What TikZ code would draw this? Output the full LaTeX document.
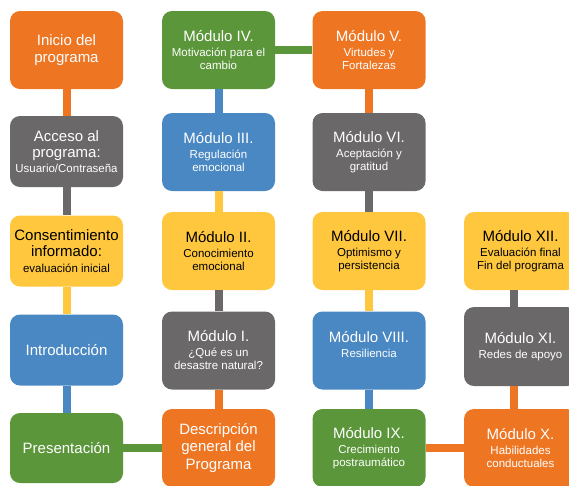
\documentclass[tikz,border=0pt]{standalone}
\usepackage{fontspec}
\setmainfont{Liberation Sans}
\definecolor{cor}{HTML}{EE7623}
\definecolor{cgr}{HTML}{6A6869}
\definecolor{cye}{HTML}{FEC73E}
\definecolor{cbl}{HTML}{4A88C3}
\definecolor{cgn}{HTML}{5B963A}
\newcommand\TT[1]{{\fontsize{15}{17}\selectfont #1}}
\tikzset{
  box/.style={rounded corners=10pt, minimum width=113pt, minimum height=78pt,
    align=center, inner sep=0pt, text=white, font=\fontsize{11.5}{13}\selectfont},
  bigbox/.style={box, font=\fontsize{15}{17.5}\selectfont},
  short/.style={minimum height=71pt},
  bor/.style={fill=cor}, bgr/.style={fill=cgr}, bye/.style={fill=cye, text=black},
  bbl/.style={fill=cbl}, bgn/.style={fill=cgn},
  conn/.style={line width=8pt},
}
\begin{document}
\begin{tikzpicture}[x=1pt,y=-1pt]
\useasboundingbox (0,0) rectangle (569,485);
% column 1
\node[bigbox,bor] (c1a) at (66.5,50) {Inicio del\\programa};
\node[box,bgr,short] (c1b) at (66.5,151.5) {\TT{Acceso al}\\[3.5pt]\TT{programa:}\\[2pt]Usuario/Contraseña};
\node[box,bye,short] (c1c) at (66.5,251) {\TT{Consentimiento}\\[3.5pt]\TT{informado:}\\[2.5pt]evaluación inicial};
\node[bigbox,bbl,short] (c1d) at (66.5,350) {Introducción};
\node[bigbox,bgn,minimum height=70pt] (c1e) at (66.5,448) {Presentación};
% column 2
\node[bigbox,bor] (c2e) at (218.5,448) {Descripción\\general del\\Programa};
\node[box,bgr] (c2d) at (218.5,350.5) {\TT{Módulo I.}\\[2pt]¿Qué es un\\desastre natural?};
\node[box,bye] (c2c) at (218.5,251) {\TT{Módulo II.}\\[2pt]Conocimiento\\emocional};
\node[box,bbl] (c2b) at (218.5,152) {\TT{Módulo III.}\\[2pt]Regulación\\emocional};
\node[box,bgn] (c2a) at (218.5,50) {\TT{Módulo IV.}\\[2pt]Motivación para el\\cambio};
% column 3
\node[box,bor] (c3a) at (369,50) {\TT{Módulo V.}\\[2pt]Virtudes y\\Fortalezas};
\node[box,bgr] (c3b) at (369,152) {\TT{Módulo VI.}\\[2pt]Aceptación y\\gratitud};
\node[box,bye] (c3c) at (369,251) {\TT{Módulo VII.}\\[2pt]Optimismo y\\persistencia};
\node[box,bbl] (c3d) at (369,350.5) {\TT{Módulo VIII.}\\[2pt]Resiliencia\\\mbox{}};
\node[box,bgn] (c3e) at (369,448) {\TT{Módulo IX.}\\[2pt]Crecimiento\\postraumático};
% column 4
\node[box,bor] (c4e) at (520.5,448) {\TT{Módulo X.}\\[2pt]Habilidades\\conductuales};
\node[box,bgr,minimum height=79pt] (c4d) at (520.5,346.5) {\TT{Módulo XI.}\\[2pt]Redes de apoyo};
\node[box,bye] (c4c) at (520.5,251) {\TT{Módulo XII.}\\[2pt]Evaluación final\\Fin del programa};
% connectors
\draw[conn,cor] (c1a) -- (c1b);
\draw[conn,cgr] (c1b) -- (c1c);
\draw[conn,cye] (c1c) -- (c1d);
\draw[conn,cbl] (c1d) -- (c1e);
\draw[conn,cgn] (c1e) -- (c2e);
\draw[conn,cor] (c2e) -- (c2d);
\draw[conn,cgr] (c2d) -- (c2c);
\draw[conn,cye] (c2c) -- (c2b);
\draw[conn,cbl] (c2b) -- (c2a);
\draw[conn,cgn] (c2a) -- (c3a);
\draw[conn,cor] (c3a) -- (c3b);
\draw[conn,cgr] (c3b) -- (c3c);
\draw[conn,cye] (c3c) -- (c3d);
\draw[conn,cbl] (c3d) -- (c3e);
\draw[conn,cor] (c3e) -- (c4e);
\draw[conn,cor] ([xshift=-6.5pt]c4e.north) -- ([xshift=-6.5pt]c4d.south);
\draw[conn,cgr] ([xshift=-6.5pt]c4d.north) -- ([xshift=-6.5pt]c4c.south);
\end{tikzpicture}
\end{document}
